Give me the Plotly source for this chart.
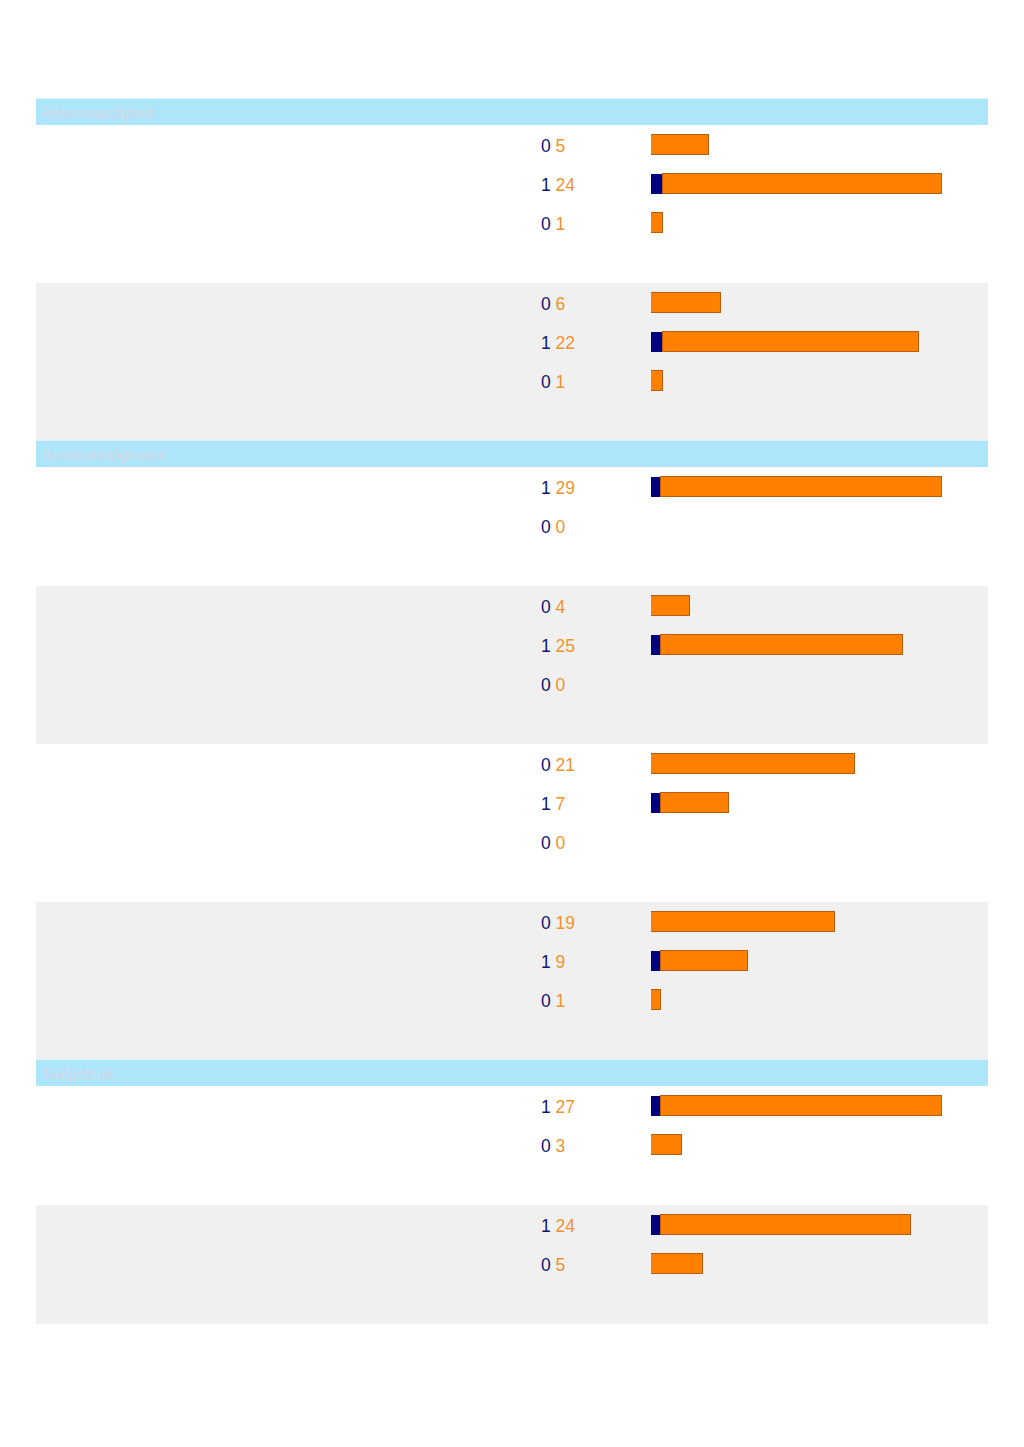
import plotly.graph_objects as go

W, H = 1024, 1447
OFF = 8  # page body margin compensation

# ---- data ----
section_titles = ["Rekenvaardigheid", "Studievaardigheden", "Taalgebruik"]
# per section: list of groups, each group a list of row values
s1_first = [[0, 1, 0], [0, 1, 0]]
s1_second = [[5, 24, 1], [6, 22, 1]]
s2_first = [[1, 0], [0, 1, 0], [0, 1, 0], [0, 1, 0]]
s2_second = [[29, 0], [4, 25, 0], [21, 7, 0], [19, 9, 1]]
s3_first = [[1, 0], [1, 0]]
s3_second = [[27, 3], [24, 5]]

sections = [
    (section_titles[0], s1_first, s1_second),
    (section_titles[1], s2_first, s2_second),
    (section_titles[2], s3_first, s3_second),
]

NAVY = "#000080"
ORANGE = "#ff8000"
ORANGE_TXT = "#f0922e"
NAVY_TXT = "#14146e"
HEADER_BG = "#ade6fb"
GREY_BG = "#f0f0f0"


def px(xp):
    return (xp - OFF) / W


fig = go.Figure()
shapes = []
annotations = []

BX0, BX1 = px(651), px(942)
LX0, LX1 = px(36), px(988)

y = 99
for si, (title, firsts, seconds) in enumerate(sections):
    shapes.append(dict(type="rect", xref="paper", yref="y", x0=LX0, x1=LX1,
                       y0=y, y1=y + 26, fillcolor=HEADER_BG, line_width=0, layer="below"))
    shapes.append(dict(type="line", xref="paper", yref="y", x0=LX0, x1=LX1,
                       y0=y - 0.5, y1=y - 0.5, line=dict(color="#d8f3fd", width=1), layer="below"))
    annotations.append(dict(text=title, xref="paper", yref="y", x=px(40), y=y + 14,
                            xanchor="left", yanchor="middle", showarrow=False,
                            font=dict(family="Liberation Sans, Arial", size=14, color="#d3d6e6")))
    y += 26
    ys_all, f_all, s_all = [], [], []
    smax = 0
    for gi, (fg, sg) in enumerate(zip(firsts, seconds)):
        n = len(fg)
        gh = n * 39 + 41
        if gi % 2 == 1:
            shapes.append(dict(type="rect", xref="paper", yref="y", x0=LX0, x1=LX1,
                               y0=y, y1=y + gh, fillcolor=GREY_BG, line_width=0, layer="below"))
        for ri in range(n):
            yc = y + 20 + ri * 39
            ys_all.append(yc)
            f_all.append(fg[ri])
            s_all.append(sg[ri])
            smax = max(smax, fg[ri] + sg[ri])
            annotations.append(dict(
                text=f"<span style='color:{NAVY_TXT}'>{fg[ri]}</span> <span style='color:{ORANGE_TXT}'>{sg[ri]}</span>",
                xref="paper", yref="y", x=px(539), y=yc + 1, xanchor="left", yanchor="middle",
                showarrow=False, font=dict(family="Liberation Sans, Arial", size=17.5)))
        y += gh
    ax = "x" if si == 0 else f"x{si + 1}"
    fig.add_trace(go.Bar(x=f_all, y=ys_all, orientation="h", width=20, xaxis=ax, yaxis="y",
                         marker=dict(color=NAVY, line=dict(width=0)), hoverinfo="skip"))
    fig.add_trace(go.Bar(x=s_all, y=ys_all, orientation="h", width=20, xaxis=ax, yaxis="y",
                         marker=dict(color=ORANGE,
                                     line=dict(color="#b85c10", width=[1 if v > 0 else 0 for v in s_all])),
                         hoverinfo="skip"))
    axdef = dict(domain=[BX0, BX1], range=[0, smax], visible=False, fixedrange=True, anchor="y")
    if si == 0:
        fig.update_layout(xaxis=axdef)
    else:
        axdef["overlaying"] = "x"
        fig.update_layout(**{f"xaxis{si + 1}": axdef})

fig.update_layout(
    width=W, height=H, margin=dict(l=0, r=0, t=0, b=0),
    paper_bgcolor="white", plot_bgcolor="rgba(0,0,0,0)",
    barmode="stack", bargap=0, showlegend=False,
    yaxis=dict(range=[H + OFF, OFF], domain=[0, 1], visible=False, fixedrange=True),
    shapes=shapes, annotations=annotations,
)

fig.write_html("out.html")
